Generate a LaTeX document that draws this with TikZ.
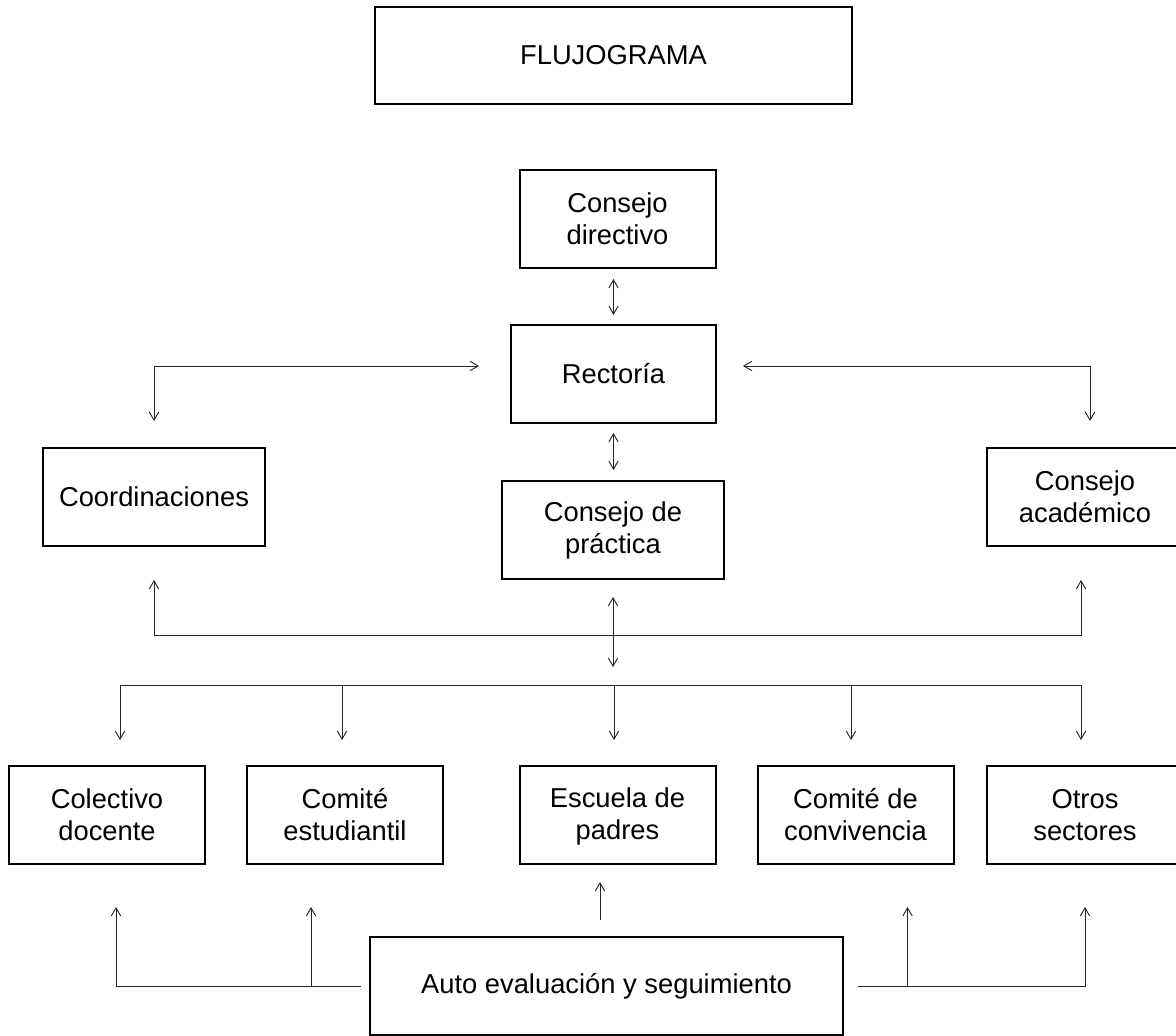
\documentclass[tikz,border=0pt]{standalone}
\usepackage{fontspec}
\setmainfont{Liberation Sans}
\usetikzlibrary{shapes,arrows.meta}

\begin{document}
\begin{tikzpicture}[x=0.75pt,y=-0.75pt,
        box/.style={draw,line width=1.5pt,align=center,minimum width=147pt,minimum height=73.5pt,font=\fontsize{20.5}{24}\selectfont},
        link/.style={line width=0.7pt,draw=black!85,arrows={-}},
        tip/.style={-{Straight Barb[length=6pt,width=7pt]}},
        tips/.style={{Straight Barb[length=6pt,width=7pt]}-{Straight Barb[length=6pt,width=7pt]}}]
        \useasboundingbox (0,0) rectangle (1176,1035);
        \clip (0,0) rectangle (1176,1035);
        % boxes
        \node[box,minimum width=357.75pt,minimum height=72.75pt] (title) at (613.5,55.5) {FLUJOGRAMA};
        \node[box] (directivo) at (617.5,219) {Consejo\\directivo};
        \node[box,minimum width=153.75pt] (rector) at (613.5,374) {Rectoría};
        \node[box,minimum width=166.5pt] (coord) at (154,497) {Coordinaciones};
        \node[box,minimum width=166.5pt] (practica) at (613,530) {Consejo de\\práctica};
        \node[box] (academico) at (1085,497) {Consejo\\académico};
        \node[box] (colectivo) at (107,815) {Colectivo\\docente};
        \node[box] (estudiantil) at (345,815) {Comité\\estudiantil};
        \node[box] (escuela) at (617.5,815) {Escuela\strut{} de\\padres};
        \node[box] (convivencia) at (855.5,815) {Comité de\\convivencia};
        \node[box] (otros) at (1085,815) {Otros\\sectores};
        \node[box,minimum width=354.75pt] (auto) at (606.5,986) {Auto evaluación y seguimiento};
        \coordinate (bus1) at (614,635);
        \coordinate (bus2) at (614,685);
        \coordinate (acad-in) at ([xshift=3.75pt]academico.north);
        \coordinate (acad-out) at ([xshift=-3pt]academico.south);
        \foreach \n/\dx in {colectivo/9.75,estudiantil/-2.25,escuela/-2.6,convivencia/-3.4,otros/-3}
          \coordinate (\n-in) at ([xshift=\dx pt]\n.north);
        \foreach \n/\dx in {colectivo/6.75,estudiantil/-25.5,convivencia/39,otros/0}
          \coordinate (\n-up) at ([xshift=\dx pt]\n.south);
        \coordinate (auto-up) at ([xshift=-4.9pt]auto.north);
        % top part
        \draw[link,tips,shorten <=7.5pt,shorten >=6.75pt] (rector.north |- directivo.south) -- (rector.north);
        \draw[link,tips,shorten <=6.75pt,shorten >=7.5pt] (rector.south) -- (rector.south |- practica.north);
        \draw[link,tips,shorten <=23.25pt,shorten >=19.5pt] ([yshift=6pt]rector.west) -| (coord.north);
        \draw[link,tips,shorten <=19.5pt,shorten >=19.5pt] ([yshift=6pt]rector.east) -| (acad-in);
        % buses
        \draw[link,tips,shorten <=24.75pt,shorten >=24.75pt] (coord.south) |- (bus1) -| (acad-out);
        \draw[link,tips,shorten <=12.75pt,shorten >=13.5pt] (practica.south) -- (practica.south |- bus2);
        \draw[link] (bus2 -| colectivo-in) -- (bus2 -| otros-in);
        \foreach \n in {colectivo,estudiantil,escuela,convivencia,otros}
          \draw[link,tip,shorten >=18.75pt] (bus2 -| \n-in) -- (\n-in);
        % bottom part
        \draw[link,tip,shorten <=6pt,shorten >=31.5pt] (auto.west) -| (colectivo-up);
        \draw[link,tip,shorten >=31.5pt] (estudiantil-up |- auto.west) -- (estudiantil-up);
        \draw[link,tip,shorten <=10.5pt,shorten >=31.5pt] (auto.east) -| (otros-up);
        \draw[link,tip,shorten >=31.5pt] (convivencia-up |- auto.east) -- (convivencia-up);
        \draw[link,tip,shorten <=12pt,shorten >=12.75pt] (auto-up) -- (auto-up |- escuela.south);
\end{tikzpicture}
\end{document}
